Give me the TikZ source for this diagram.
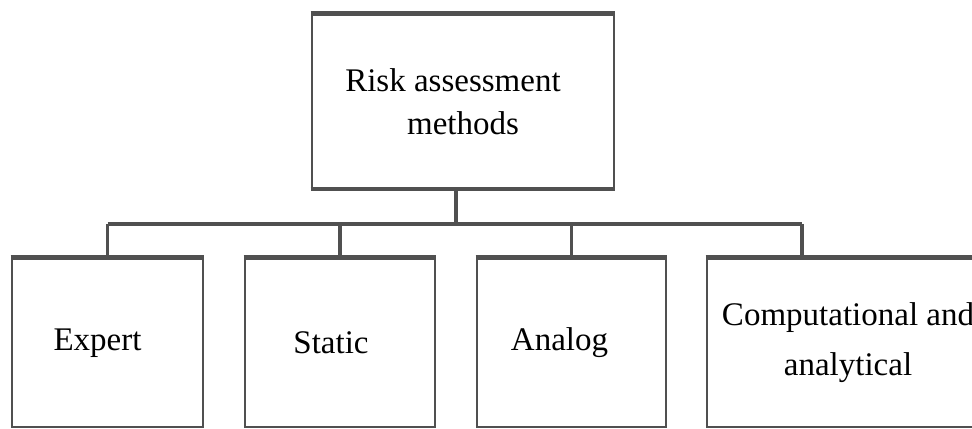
\documentclass[tikz,border=0pt]{standalone}
\usepackage{fontspec}
\setmainfont{Liberation Serif}
\usetikzlibrary{positioning}
\definecolor{boxgray}{RGB}{80,80,80}

\begin{document}
\begin{tikzpicture}[x=0.5pt, y=0.5pt,
  every node/.style={draw=boxgray, line width=1.3pt, rectangle, inner sep=0pt, align=center, font=\fontsize{16.5}{21.5}\selectfont},
  topbox/.style={minimum width=151pt, minimum height=86.5pt},
  leafbox/.style={minimum height=84pt},
  rim/.style={draw=boxgray, line width=2.2pt},
  bus/.style={draw=boxgray, line width=1.6pt}
]
\clip (0,0) rectangle (972,428);

\node[topbox] (risk) at (463,326.5) {Risk assessment\hspace*{10pt}\\ methods};

\node[leafbox, minimum width=95.5pt] (expert) at (107.5,85) {Expert\hspace*{10pt}};
\node[leafbox, minimum width=95pt] (static) at (340,85) {Static\hspace*{9pt}};
\node[leafbox, minimum width=94.5pt] (analog) at (571.5,85) {Analog\hspace*{12pt}};
\node[leafbox, minimum width=141pt, font=\fontsize{16.5}{25}\selectfont] (comp) at (848,85) {Computational and\\analytical};

% thicker top and bottom rims
\draw[rim] (risk.north west) -- (risk.north east);
\draw[rim] (risk.south west) -- (risk.south east);
\foreach \n in {expert,static,analog,comp}
  \draw[rim] (\n.north west) -- (\n.north east);

% connectors
\coordinate (join) at (456,204);
\coordinate (busend) at (802,204);
\draw[bus] (risk.south -| join) -- (join);
\draw[bus] (expert.north |- join) -- (busend);
\foreach \n in {expert,static,analog}
  \draw[bus] (\n.north |- join) -- (\n.north);
\draw[bus] (busend) -- (busend |- comp.north);
\end{tikzpicture}
\end{document}
